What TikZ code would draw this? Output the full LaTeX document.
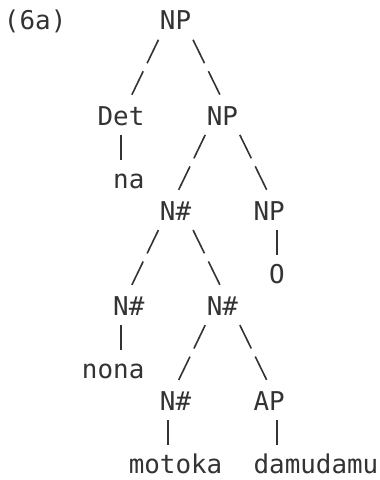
\documentclass[tikz,border=0pt]{standalone}
\usepackage{fontspec}
\newfontfamily\treefont{DejaVu Sans Mono}

\tikzset{
  word/.style={anchor=base west, inner sep=0pt, outer sep=0pt, text=black!80,
    font=\treefont\fontsize{25.9}{31.7}\selectfont},
  branch/.style={draw=black!80, line width=1.6pt, dash pattern=on 26pt off 9pt},
  stem/.style={draw=black!80, line width=1.6pt},
}

\begin{document}
\begin{tikzpicture}[x=15.6pt, y=-31.7pt]
  % one unit = one character cell, rows counted downwards
  \useasboundingbox (-0.256,0.0536) rectangle (24.103,15.196);

  \node[word] (ex) at (0,1) {(6a)};
  \node[word] (np1) at (10,1) {NP};
  \node[word] (det) at (6,4) {Det};
  \node[word] (np2) at (13,4) {NP};
  \node[word] (na) at (7,6) {na};
  \node[word] (nb1) at (10,7) {N\#};
  \node[word] (np3) at (16,7) {NP};
  \node[word] (o) at (17,9) {O};
  \node[word] (nb2) at (7,10) {N\#};
  \node[word] (nb3) at (13,10) {N\#};
  \node[word] (nona) at (5,12) {nona};
  \node[word] (nb4) at (10,13) {N\#};
  \node[word] (ap) at (16,13) {AP};
  \node[word] (motoka) at (8,15) {motoka};
  \node[word] (damu) at (16,15) {damudamu};

  \draw[branch] ([shift={(-0.1,0.31)}]np1.base west) -- ([shift={(-0.81,-0.95)}]det.base east);
  \draw[branch] ([shift={(0.12,0.31)}]np1.base east) -- ([shift={(0.85,-0.95)}]np2.base west);
  \draw[stem] ([shift={(1.5,0.3)}]det.base west) -- ([shift={(0.5,-0.9)}]na.base west);

  \draw[branch] ([shift={(-0.1,0.31)}]np2.base west) -- ([shift={(-0.81,-0.95)}]nb1.base east);
  \draw[branch] ([shift={(0.12,0.31)}]np2.base east) -- ([shift={(0.85,-0.95)}]np3.base west);
  \draw[stem] ([shift={(1.5,0.3)}]np3.base west) -- ([shift={(0.5,-0.9)}]o.base west);

  \draw[branch] ([shift={(-0.1,0.31)}]nb1.base west) -- ([shift={(-0.81,-0.95)}]nb2.base east);
  \draw[branch] ([shift={(0.12,0.31)}]nb1.base east) -- ([shift={(0.85,-0.95)}]nb3.base west);
  \draw[stem] ([shift={(0.5,0.3)}]nb2.base west) -- ([shift={(2.5,-0.9)}]nona.base west);

  \draw[branch] ([shift={(-0.1,0.31)}]nb3.base west) -- ([shift={(-0.81,-0.95)}]nb4.base east);
  \draw[branch] ([shift={(0.12,0.31)}]nb3.base east) -- ([shift={(0.85,-0.95)}]ap.base west);
  \draw[stem] ([shift={(0.5,0.3)}]nb4.base west) -- ([shift={(2.5,-0.9)}]motoka.base west);
  \draw[stem] ([shift={(1.5,0.3)}]ap.base west) -- ([shift={(1.5,-0.9)}]damu.base west);
\end{tikzpicture}
\end{document}
